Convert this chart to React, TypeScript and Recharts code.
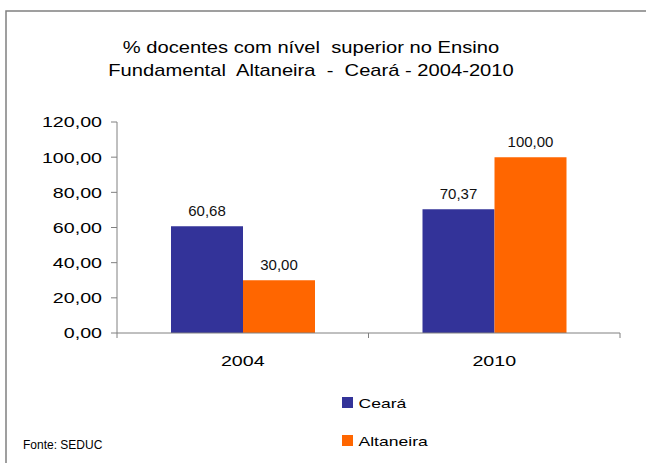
import React from 'react';
import { BarChart, Bar, XAxis, YAxis, LabelList } from 'recharts';

const categories = ['2004', '2010'];
const cearaValues = [60.68, 70.37];
const altaneiraValues = [30.0, 100.0];
const yTicks = [0, 20, 40, 60, 80, 100, 120];
const seriesKeys = ['ceara', 'altaneira'];
const seriesNames = ['Ceará', 'Altaneira'];
const seriesColors = ['#333399', '#FF6600'];
const titleLines = [
  '% docentes com nível  superior no Ensino',
  'Fundamental  Altaneira  -  Ceará - 2004-2010',
];
const sourceText = 'Fonte: SEDUC';

const data = categories.map((c, i) => ({
  category: c,
  ceara: cearaValues[i],
  altaneira: altaneiraValues[i],
}));

const fmt = (v: number) => Number(v).toFixed(2).replace('.', ',');
const FONT = 'Arial, "Liberation Sans", sans-serif';
const AXIS = '#808080';

const YTick = (p: any) => (
  <text
    transform={`translate(${p.x},${p.y}) scale(1.31,1)`}
    textAnchor="end"
    dy="0.36em"
    fontSize={15}
    fontFamily={FONT}
    fill="#000"
  >
    {fmt(p.payload.value)}
  </text>
);

const XTick = (p: any) => {
  const half = p.width && p.visibleTicksCount ? p.width / p.visibleTicksCount / 2 : 0;
  return (
    <g>
      {half > 0 && (
        <>
          <line x1={p.x - half} x2={p.x - half} y1={p.y} y2={p.y + 5} stroke={AXIS} strokeWidth={1} />
          <line x1={p.x + half} x2={p.x + half} y1={p.y} y2={p.y + 5} stroke={AXIS} strokeWidth={1} />
        </>
      )}
      <text
        transform={`translate(${p.x},${p.y + 33}) scale(1.31,1)`}
        textAnchor="middle"
        fontSize={15}
        fontFamily={FONT}
        fill="#000"
      >
        {p.payload.value}
      </text>
    </g>
  );
};

const DataLabel = (p: any) => {
  const cx = p.x + p.width / 2;
  return (
    <text x={cx} y={p.y - 10} textAnchor="middle" fontSize={15} fontFamily={FONT} fill="#111">
      {fmt(p.value)}
    </text>
  );
};

export default function App() {
  return (
    <div style={{ position: 'absolute', left: 0, top: 0, width: 646, height: 463, background: '#fff', overflow: 'hidden' }}>
      <svg width={646} height={463} style={{ position: 'absolute', left: 0, top: 0 }}>
        <rect x={6} y={11} width={700} height={500} fill="none" stroke={AXIS} strokeWidth={1.5} />
        {titleLines.map((t, i) => (
          <text
            key={i}
            transform={`translate(311,${53 + i * 22.7}) scale(1.26,1)`}
            textAnchor="middle"
            fontSize={16}
            fontFamily={FONT}
            fill="#000"
            style={{ whiteSpace: 'pre' }}
          >
            {t}
          </text>
        ))}
        <text x={23} y={449} fontSize={12} fontFamily={FONT} fill="#000" transform="" style={{ whiteSpace: 'pre' }}>
          {sourceText}
        </text>
        {seriesNames.map((n, i) => (
          <g key={n}>
            <rect x={342} y={397 + i * 38} width={11} height={11} fill={seriesColors[i]} />
            <text
              transform={`translate(358.5,${407.7 + i * 38.3}) scale(1.35,1)`}
              fontSize={13}
              fontFamily={FONT}
              fill="#000"
            >
              {n}
            </text>
          </g>
        ))}
      </svg>
      <div style={{ position: 'absolute', left: 0, top: 0 }}>
        <BarChart
          width={646}
          height={463}
          data={data}
          margin={{ top: 122, right: 26, bottom: 100, left: 0 }}
          barGap={0}
          barSize={72}
        >
          <XAxis
            dataKey="category"
            height={30}
            axisLine={{ stroke: AXIS, strokeWidth: 1 }}
            tickLine={false}
            tickSize={0}
            tickMargin={0}
            tick={<XTick />}
            interval={0}
          />
          <YAxis
            width={117}
            domain={[0, 120]}
            ticks={yTicks}
            interval={0}
            axisLine={{ stroke: AXIS, strokeWidth: 1 }}
            tickLine={{ stroke: AXIS, strokeWidth: 1 }}
            tickSize={6}
            tickMargin={9}
            tick={<YTick />}
          />
          {seriesKeys.map((k, i) => (
            <Bar key={k} dataKey={k} name={seriesNames[i]} fill={seriesColors[i]} isAnimationActive={false}>
              <LabelList dataKey={k} content={<DataLabel />} />
            </Bar>
          ))}
        </BarChart>
      </div>
    </div>
  );
}
